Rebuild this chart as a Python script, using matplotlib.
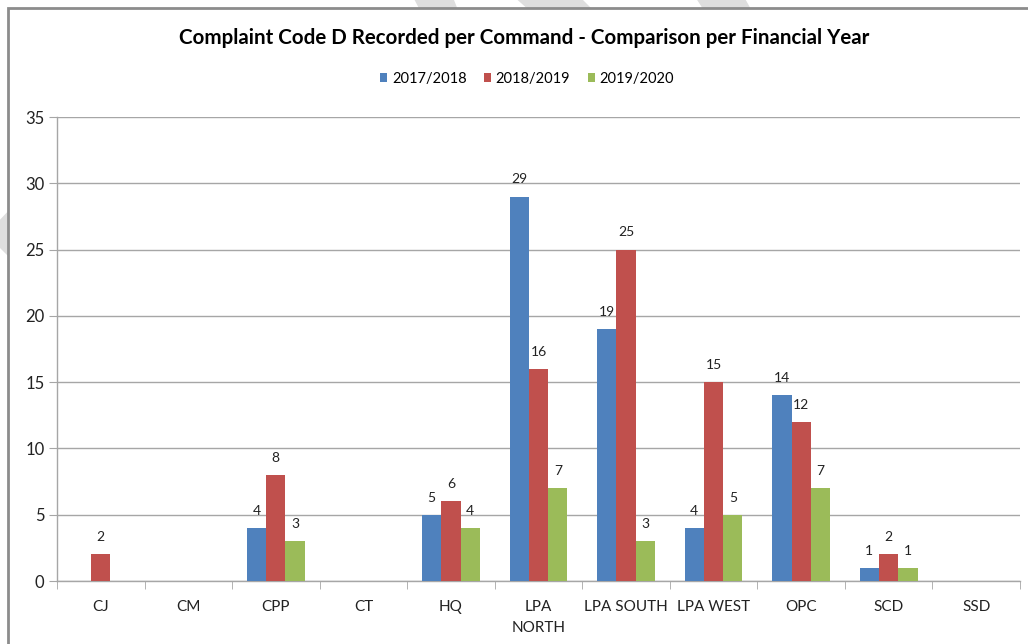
import numpy as np
import matplotlib
matplotlib.use("Agg")
import matplotlib.pyplot as plt
from matplotlib.patches import Polygon, Rectangle, Patch

commands = ["CJ", "CM", "CPP", "CT", "HQ", "LPA\nNORTH", "LPA SOUTH", "LPA WEST", "OPC", "SCD", "SSD"]
fy_2017_2018 = [0, 0, 4, 0, 5, 29, 19, 4, 14, 1, 0]
fy_2018_2019 = [2, 0, 8, 0, 6, 16, 25, 15, 12, 2, 0]
fy_2019_2020 = [0, 0, 3, 0, 4, 7, 3, 5, 7, 1, 0]
series_names = ["2017/2018", "2018/2019", "2019/2020"]
colors = ["#4F81BD", "#C0504D", "#9BBB59"]

W, H = 1028, 644
plt.rcParams["font.family"] = ["Lato", "DejaVu Sans"]
fig = plt.figure(figsize=(W / 100, H / 100), dpi=100)


def px(x, y):
    # pixel coords (top-left origin) -> figure fraction
    return (x / W, 1 - y / H)


# watermark stripes peeking out round the chart frame
stripes = [
    [(412, -5), (452, -5), (462, 20), (425, 20)],
    [(512, -5), (578, -5), (603, 20), (540, 20)],
    [(694, -5), (743, -5), (757, 20), (710, 20)],
    [(-5, 225), (12, 207), (12, 260), (-5, 243)],
]
for s in stripes:
    fig.add_artist(Polygon([px(*p) for p in s], closed=True, facecolor="#dedede",
                           edgecolor="none", transform=fig.transFigure, zorder=0))

# chart frame
x0, y0 = px(8, 8)
fig.add_artist(Rectangle((x0, -0.1), 1.2, y0 + 0.1, facecolor="white", edgecolor="#8c8c8c",
                         linewidth=2, transform=fig.transFigure, zorder=1))

left, right, top, bottom = 57, 1020, 117, 581
ax = fig.add_axes([left / W, (H - bottom) / H, (right - left) / W, (bottom - top) / H])
ax.set_zorder(2)
ax.patch.set_visible(False)

x = np.arange(len(commands))
bw = 0.22
for i, (vals, c, name) in enumerate(zip([fy_2017_2018, fy_2018_2019, fy_2019_2020], colors, series_names)):
    pos = x + (i - 1) * bw
    ax.bar(pos, vals, width=bw, color=c, label=name, zorder=3)
    for xp, v in zip(pos, vals):
        if v > 0:
            ax.annotate(str(v), (xp, v), xytext=(0, 8), textcoords="offset points",
                        ha="center", va="bottom", fontsize=10, color="#222222")

ax.set_xlim(-0.5, len(commands) - 0.5)
ax.set_ylim(0, 35)
ax.set_yticks(range(0, 36, 5))
ax.yaxis.grid(True, color="#a6a6a6", linewidth=1)
ax.set_axisbelow(True)

ax.set_xticks(x)
ax.set_xticklabels(commands, fontsize=11, linespacing=1.6)
ax.set_xticks(np.arange(-0.5, len(commands)), minor=True)
ax.tick_params(axis="x", which="major", length=0, pad=14, colors="#222222")
ax.tick_params(axis="x", which="minor", length=6, color="#a6a6a6")
ax.tick_params(axis="y", length=6, color="#a6a6a6", labelsize=12, pad=3, labelcolor="#222222")
for lab in ax.get_xticklabels():
    lab.set_va("top")

for side in ["top", "right"]:
    ax.spines[side].set_visible(False)
for side in ["left", "bottom"]:
    ax.spines[side].set_color("#a6a6a6")
    ax.spines[side].set_linewidth(1)

fig.text(*px(524, 38), "Complaint Code D Recorded per Command - Comparison per Financial Year",
         ha="center", va="center", fontsize=14.8, fontweight="bold", zorder=3)

handles = [Patch(facecolor=c, edgecolor="none") for c in colors]
fig.legend(handles, series_names, loc="center", bbox_to_anchor=px(527, 79), ncol=3,
           frameon=False, fontsize=10.5, handlelength=0.5, handleheight=0.6,
           handletextpad=0.3, columnspacing=1.2)

fig.savefig("out.png", dpi=100)
